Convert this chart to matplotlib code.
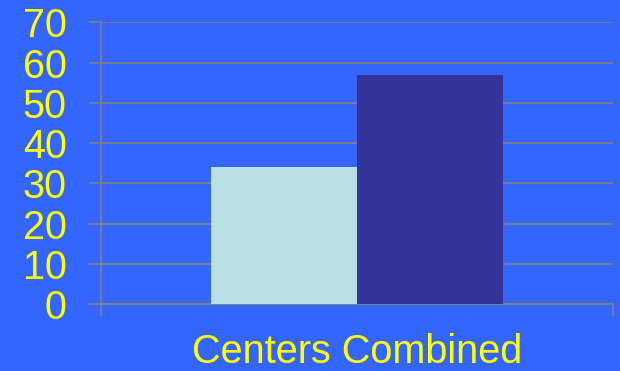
import matplotlib.pyplot as plt

categories = ['Centers Combined']
series_a = [34]
series_b = [57]
y_ticks = [0, 10, 20, 30, 40, 50, 60, 70]

bg = '#3366FF'
grid_col = '#808080'
text_col = '#FFFF00'

plt.rcParams['font.family'] = ['Liberation Sans', 'DejaVu Sans']

fig = plt.figure(figsize=(6.2, 3.71), dpi=100, facecolor=bg)
ax = fig.add_axes([101 / 620, 67 / 371, 512 / 620, 281.7 / 371])
ax.set_facecolor(bg)

w = 0.285
x = list(range(len(categories)))
ax.bar([i - w / 2 for i in x], series_a, width=w, color='#B8E0E2', zorder=3)
ax.bar([i + w / 2 for i in x], series_b, width=w, color='#333399', zorder=3)

ax.set_xlim(-0.5, len(categories) - 0.5)
ax.set_ylim(0, 70)
ax.set_yticks(y_ticks)
ax.yaxis.grid(True, color=grid_col, linewidth=1.2, zorder=0)
ax.set_axisbelow(True)

# boundaries carry the tick marks, category centres carry the label
ax.set_xticks([-0.5, len(categories) - 0.5])
ax.set_xticklabels([])
ax.set_xticks(x, minor=True)
ax.set_xticklabels(categories, minor=True)
ax.tick_params(axis='x', which='major', length=8.6, width=1.2, color=grid_col, direction='out')
ax.tick_params(axis='x', which='minor', length=0, pad=21, labelsize=28.5, labelcolor=text_col)
ax.tick_params(axis='y', length=8.6, width=1.2, color=grid_col, direction='out',
               pad=16, labelsize=28.5, labelcolor=text_col)

for s in ['top', 'right']:
    ax.spines[s].set_visible(False)
for s in ['left', 'bottom']:
    ax.spines[s].set_color(grid_col)
    ax.spines[s].set_linewidth(1.2)

fig.savefig('out.png', dpi=100, facecolor=bg)
